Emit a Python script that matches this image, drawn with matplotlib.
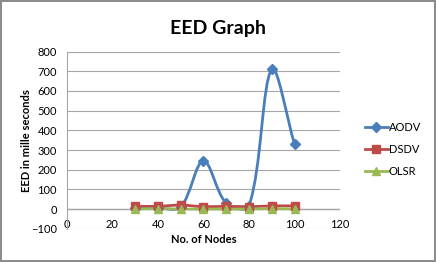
import matplotlib
matplotlib.use("Agg")
import matplotlib.pyplot as plt
from matplotlib.path import Path
from matplotlib.patches import PathPatch
from matplotlib.lines import Line2D
import math

plt.rcParams['font.family'] = ['Lato', 'DejaVu Sans']

nodes = [30, 40, 50, 60, 70, 80, 90, 100]
aodv = [5, 5, 10, 245, 30, 15, 710, 330]
dsdv = [14, 14, 20, 12, 14, 12, 16, 16]
olsr = [0, 2, 0, 0, 0, 0, 2, 0]

series = [
    ("AODV", aodv, "#4A7EBB", "D", 5.5),
    ("DSDV", dsdv, "#BE4B48", "s", 6),
    ("OLSR", olsr, "#98B954", "^", 6),
]

# rough pixel per unit, used only to weight the smoothing
SX = 2.275
SY = 0.197


def seg_len(a, b):
    return math.hypot((b[0] - a[0]) * SX, (b[1] - a[1]) * SY)


def smooth_path(xs, ys):
    # bezier segments like the spreadsheet "smoothed line"
    pts = list(zip(xs, ys))
    n = len(pts)
    outs, ins = [], []
    for i in range(n):
        p = pts[i]
        prv = pts[i - 1] if i > 0 else p
        nxt = pts[i + 1] if i + 1 < n else p
        tx, ty = nxt[0] - prv[0], nxt[1] - prv[1]
        dp, dn = seg_len(prv, p), seg_len(p, nxt)
        tot = dp + dn if dp + dn > 0 else 1
        fo = dn / tot / 3.
        fi = dp / tot / 3.
        outs.append((p[0] + tx * fo, p[1] + ty * fo))
        ins.append((p[0] - tx * fi, p[1] - ty * fi))
    verts = [pts[0]]
    codes = [Path.MOVETO]
    for i in range(n - 1):
        verts += [outs[i], ins[i + 1], pts[i + 1]]
        codes += [Path.CURVE4] * 3
    return Path(verts, codes)


fig = plt.figure(figsize=(4.36, 2.62), dpi=100)
fig.patch.set_edgecolor("#8c8c8c")
fig.patch.set_linewidth(1.5)
ax = fig.add_axes([0.153, 0.127, 0.627, 0.676])

handles = []
for name, vals, col, mk, ms in series:
    ax.add_patch(PathPatch(smooth_path(nodes, vals), facecolor="none",
                           edgecolor=col, lw=2, zorder=3))
    ax.plot(nodes, vals, ls="none", marker=mk, ms=ms, color=col, zorder=4)
    handles.append(Line2D([], [], color=col, lw=2, marker=mk, ms=ms))

ax.set_xlim(0, 120)
ax.set_ylim(-100, 800)
ax.set_xticks(range(0, 121, 20))
ax.set_yticks(range(-100, 801, 100))
ax.grid(axis="y", color="#a6a6a6", lw=0.8)
ax.set_axisbelow(True)
for s in ["top", "right", "bottom"]:
    ax.spines[s].set_visible(False)
ax.spines["left"].set_color("#a6a6a6")
ax.axhline(0, color="#a6a6a6", lw=1, zorder=1)
ax.tick_params(axis="y", length=0, labelsize=8, pad=7)
ax.tick_params(axis="x", length=0, labelsize=8, pad=-7)

ax.set_xlabel("No. of Nodes", fontsize=8, fontweight="bold", labelpad=3)
ax.set_ylabel("EED in mille seconds", fontsize=8, fontweight="bold", labelpad=-1)
fig.text(0.5, 0.89, "EED Graph", ha="center", va="center",
         fontsize=14, fontweight="bold")

fig.legend(handles, [s[0] for s in series], loc="center left",
           bbox_to_anchor=(0.815, 0.43), frameon=False, fontsize=8,
           handlelength=2.0, handletextpad=0.1, labelspacing=1.0)

fig.savefig("out.png", dpi=100)
